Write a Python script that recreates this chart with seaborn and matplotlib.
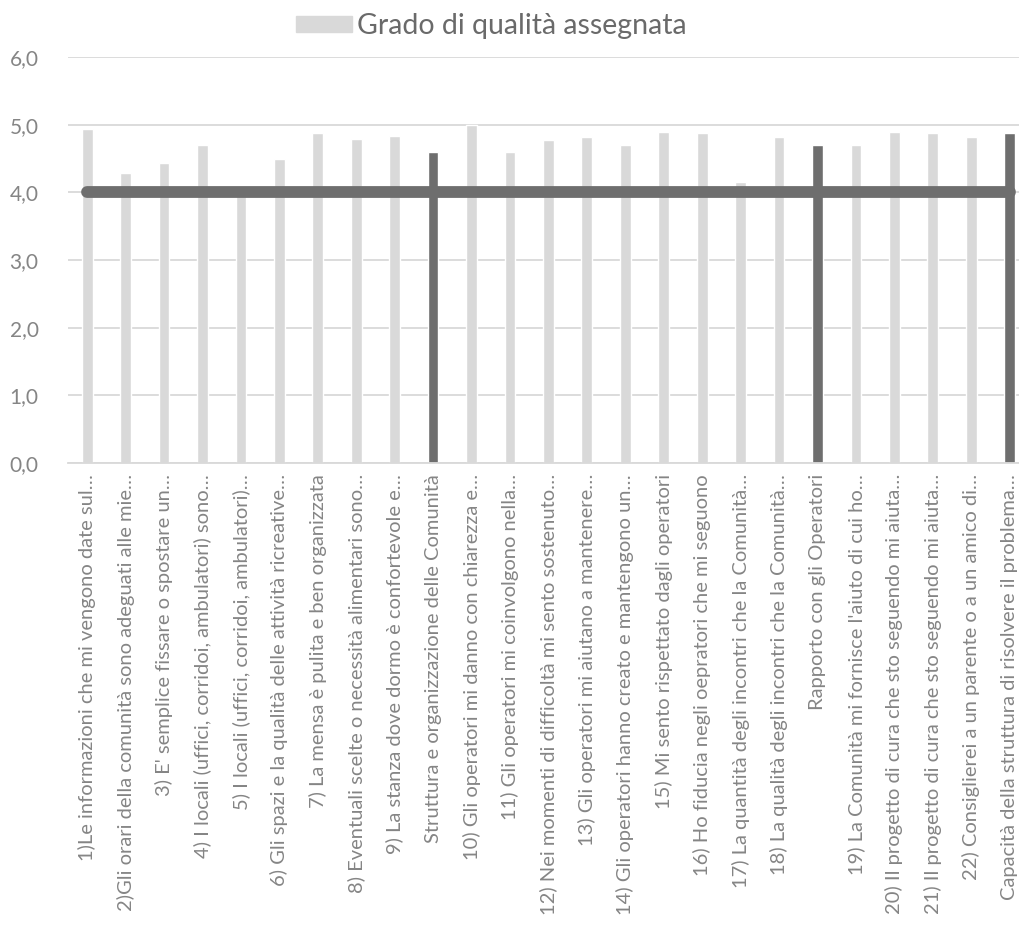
import matplotlib
matplotlib.use("Agg")
import matplotlib.pyplot as plt
import matplotlib.patches as mpatches
import seaborn as sns
import pandas as pd

# Survey items and summary areas, in display order
categorie = [
    "1)Le informazioni che mi vengono date sul…",
    "2)Gli orari della comunità sono adeguati alle mie…",
    "3) E' semplice fissare o spostare un…",
    "4) I locali (uffici, corridoi, ambulatori) sono…",
    "5) I locali (uffici, corridoi, ambulatori)…",
    "6) Gli spazi e la qualità delle attività ricreative…",
    "7) La mensa è pulita e ben organizzata",
    "8) Eventuali scelte o necessità alimentari sono…",
    "9) La stanza dove dormo è confortevole e…",
    "Struttura e organizzazione delle Comunità",
    "10) Gli operatori mi danno con chiarezza e…",
    "11) Gli operatori mi coinvolgono nella…",
    "12) Nei momenti di difficoltà mi sento sostenuto…",
    "13) Gli operatori mi aiutano a mantenere…",
    "14) Gli operatori hanno creato e mantengono un…",
    "15) Mi sento rispettato dagli operatori",
    "16) Ho fiducia negli oepratori che mi seguono",
    "17) La quantità degli incontri che la Comunità…",
    "18) La qualità degli incontri che la Comunità…",
    "Rapporto con gli Operatori",
    "19) La Comunità mi fornisce l'aiuto di cui ho…",
    "20) Il progetto di cura che sto seguendo mi aiuta…",
    "21) Il progetto di cura che sto seguendo mi aiuta…",
    "22) Consiglierei a un parente o a un amico di…",
    "Capacità della struttura di risolvere il problema…",
]

# Average quality score per item
grado = [4.94, 4.28, 4.43, 4.70, 3.95, 4.50, 4.88, 4.79, 4.84, 4.60,
         5.00, 4.60, 4.77, 4.82, 4.70, 4.89, 4.88, 4.16, 4.82, 4.70,
         4.70, 4.89, 4.88, 4.82, 4.88]

# True for the summary areas (drawn darker)
sintesi = [False] * 9 + [True] + [False] * 9 + [True] + [False] * 4 + [True]

# Reference threshold
soglia = 4.0

df = pd.DataFrame({"voce": categorie, "grado": grado, "sintesi": sintesi})

CHIARO = "#d9d9d9"
SCURO = "#6e6e6e"
TESTO = "#858585"

sns.set_theme(style="white")
plt.rcParams["font.family"] = ["Lato", "DejaVu Sans"]

fig = plt.figure(figsize=(10.19, 9.41), dpi=100)
ax = fig.add_axes([0.0667, 0.508, 0.943, 0.4314])

palette = {v: (SCURO if s else CHIARO) for v, s in zip(categorie, sintesi)}
sns.barplot(data=df, x="voce", y="grado", hue="voce", palette=palette,
            width=0.28, legend=False, ax=ax, saturation=1)

ax.plot(range(len(categorie)), [soglia] * len(categorie), color=SCURO,
        linewidth=8.5, solid_capstyle="round", zorder=3)

ax.set_ylim(0, 6)
ax.set_xlim(-0.5, len(categorie) - 0.5)
ax.set_yticks(range(0, 7))
ax.set_yticklabels([f"{v},0" for v in range(0, 7)])
ax.yaxis.grid(True, color="#d9d9d9", linewidth=1.3)
ax.set_axisbelow(True)
for side in ("left", "right", "top"):
    ax.spines[side].set_visible(False)
ax.spines["bottom"].set_color("#d9d9d9")
ax.spines["bottom"].set_linewidth(1.3)
ax.set_xlabel("")
ax.set_ylabel("")

ax.tick_params(axis="y", length=0, labelsize=15, labelcolor=TESTO, pad=42)
ax.tick_params(axis="x", length=0, labelsize=14.5, labelcolor=TESTO, pad=8)
for lab in ax.get_yticklabels():
    lab.set_horizontalalignment("left")
ax.set_xticks(range(len(categorie)))
ax.set_xticklabels(categorie, rotation=90, ha="center", va="top")

handle = mpatches.Patch(color=CHIARO, label="Grado di qualità assegnata")
fig.legend(handles=[handle], loc="center", bbox_to_anchor=(0.482, 0.972),
           frameon=False, fontsize=20.5, labelcolor="#6a6a6a",
           handlelength=1.95, handleheight=0.5, handletextpad=0.18)

fig.savefig("out.png", dpi=100, facecolor="white")
